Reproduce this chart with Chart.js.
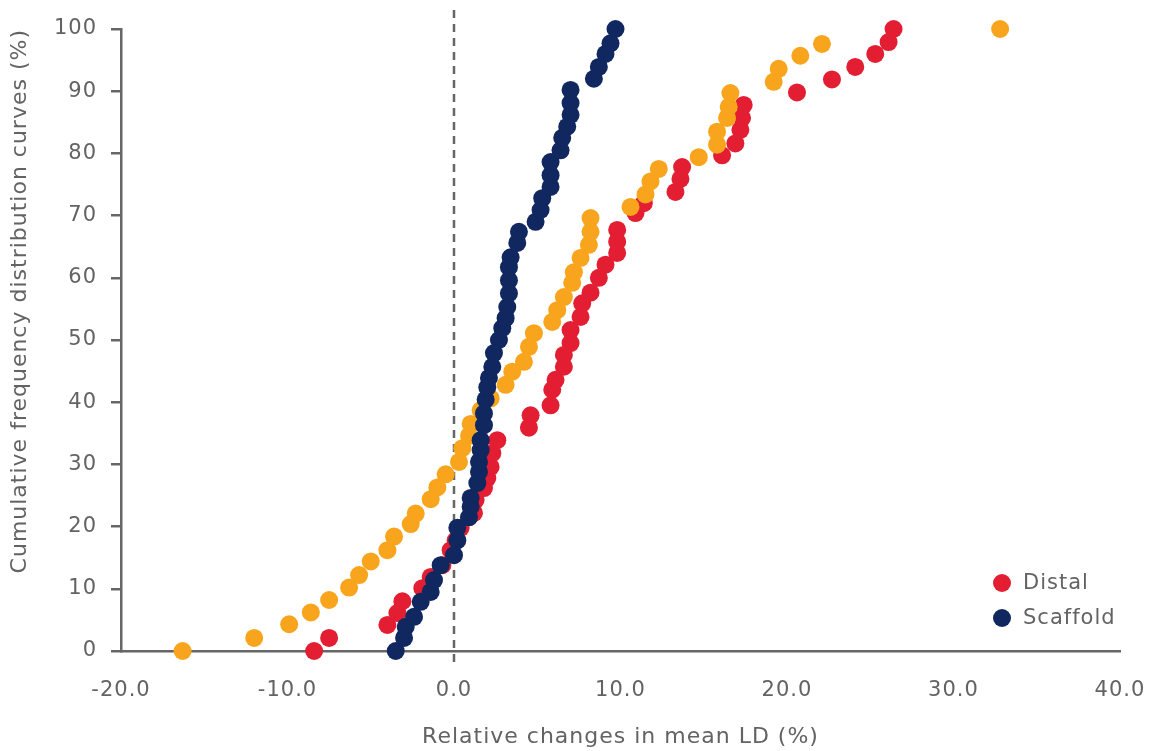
<!DOCTYPE html>
<html>
<head>
<meta charset="utf-8">
<script src="https://cdn.jsdelivr.net/npm/chart.js@4.4.1/dist/chart.umd.min.js"></script>
<style>
  html, body { margin: 0; padding: 0; background: #fff; }
  #wrap { width: 1149px; height: 751px; }
</style>
</head>
<body>
<div id="wrap"><canvas id="ldChart" width="1149" height="751"></canvas></div>
<script>
// x ticks / y ticks
const xTicks = [-20, -10, 0, 10, 20, 30, 40];
const yTicks = [0, 10, 20, 30, 40, 50, 60, 70, 80, 90, 100];

// orange series (no legend entry)
const proximalX = [-16.3, -12.0, -9.9, -8.6, -7.5, -6.3, -5.7, -5.0, -4.0, -3.6, -2.6, -2.3, -1.4, -1.0, -0.5, 0.3, 0.5, 0.9, 1.0,
  1.6, 2.2, 3.1, 3.5, 4.2, 4.5, 4.8, 5.9, 6.2, 6.6, 7.1, 7.2, 7.6, 8.1, 8.2, 8.2,
  10.6, 11.5, 11.8, 12.3, 14.7, 15.8, 15.8, 16.4, 16.5, 16.6, 19.2, 19.5, 20.8, 22.1, 32.8];
const proximalY = [0, 2.1, 4.3, 6.2, 8.2, 10.2, 12.2, 14.4, 16.2, 18.4, 20.4, 22.1, 24.4, 26.3, 28.4, 30.4, 32.6, 34.6, 36.5,
  38.7, 40.6, 42.8, 44.9, 46.5, 48.9, 51.1, 52.9, 54.8, 56.9, 59.2, 60.9, 63.2, 65.3, 67.4, 69.6,
  71.4, 73.4, 75.5, 77.5, 79.4, 81.4, 83.5, 85.7, 87.5, 89.7, 91.5, 93.6, 95.7, 97.6, 100];

// Distal
const distalX = [-8.4, -7.5, -4.0, -3.4, -3.1, -1.9, -1.4, -0.7, -0.2, 0.1, 0.4, 1.2, 1.3, 1.8, 2.0, 2.2, 2.3, 2.6,
  4.5, 4.6, 5.8, 5.9, 6.1, 6.6, 6.6, 7.0, 7.0, 7.6, 7.7, 8.2, 8.7, 9.1, 9.8, 9.8, 9.8,
  10.9, 11.4, 13.3, 13.6, 13.7, 16.1, 16.9, 17.2, 17.3, 17.4, 20.6, 22.7, 24.1, 25.3, 26.1, 26.4];
const distalY = [0, 2.1, 4.2, 6.1, 8.0, 10.1, 11.9, 13.8, 16.2, 17.8, 19.8, 22.2, 24.3, 26.2, 27.8, 29.6, 31.8, 33.9,
  35.9, 37.9, 39.5, 42.0, 43.6, 45.7, 47.6, 49.5, 51.6, 53.7, 55.9, 57.6, 60.0, 62.1, 64.0, 65.8, 67.7,
  70.4, 72.0, 73.8, 75.9, 77.8, 79.7, 81.6, 83.8, 85.7, 87.8, 89.8, 91.9, 93.9, 96.0, 97.9, 100];

// Scaffold
const scaffoldX = [-3.5, -3.0, -2.9, -2.4, -2.0, -1.4, -1.2, -0.8, 0.0, 0.2, 0.2, 0.9, 1.0, 1.0, 1.4, 1.5, 1.5, 1.6, 1.6,
  1.8, 1.8, 1.9, 2.0, 2.1, 2.3, 2.4, 2.7, 2.9, 3.1, 3.2, 3.3, 3.3, 3.3, 3.4, 3.8, 3.9,
  4.9, 5.2, 5.3, 5.8, 5.8, 5.8, 6.4, 6.5, 6.8, 7.0, 7.0, 7.0, 8.4, 8.7, 9.1, 9.4, 9.7];
const scaffoldY = [0, 2.1, 3.9, 5.5, 7.9, 9.5, 11.4, 13.8, 15.4, 17.8, 19.8, 21.5, 23.2, 24.6, 27.0, 28.8, 30.4, 32.3, 33.9,
  36.3, 38.2, 40.4, 42.4, 43.9, 45.7, 47.9, 50.0, 51.9, 53.5, 55.3, 57.5, 59.6, 61.7, 63.3, 65.6, 67.4,
  69.0, 70.9, 72.8, 74.6, 76.5, 78.6, 80.5, 82.5, 84.3, 86.2, 88.1, 90.2, 92.0, 93.9, 96.0, 97.7, 100];

const ORANGE = "#F8A51D";
const RED = "#E31E33";
const NAVY = "#10275F";
const TXT = "#636363";
const AXIS = "#666666";
const FONT = "'DejaVu Sans', 'Noto Sans', sans-serif";

function toPoints(xs, ys) {
  return xs.map((x, i) => ({ x: x, y: ys[i] }));
}

// wider letters, closer to the original typeface
const spacing = {
  id: "spacing",
  beforeDraw(chart) { chart.ctx.letterSpacing = "1px"; }
};

// dashed zero line, drawn under the dots
const zeroLine = {
  id: "zeroLine",
  beforeDatasetsDraw(chart) {
    const ctx = chart.ctx;
    const x = chart.scales.x.getPixelForValue(0);
    ctx.save();
    ctx.strokeStyle = AXIS;
    ctx.lineWidth = 2.5;
    ctx.setLineDash([8, 6]);
    ctx.beginPath();
    ctx.moveTo(x, 10);
    ctx.lineTo(x, chart.chartArea.bottom + 17);
    ctx.stroke();
    ctx.restore();
  }
};

// legend in lower right corner of the plot
const cornerLegend = {
  id: "cornerLegend",
  afterDraw(chart) {
    const ctx = chart.ctx;
    const items = [
      { label: "Distal", color: RED },
      { label: "Scaffold", color: NAVY }
    ];
    const left = chart.chartArea.right - 118;
    let y = chart.chartArea.bottom - 68;
    ctx.save();
    ctx.font = "21px " + FONT;
    ctx.textBaseline = "middle";
    items.forEach(it => {
      ctx.fillStyle = it.color;
      ctx.beginPath();
      ctx.arc(left, y, 9, 0, Math.PI * 2);
      ctx.fill();
      ctx.fillStyle = TXT;
      ctx.fillText(it.label, left + 21, y + 1);
      y += 35;
    });
    ctx.restore();
  }
};

const ctx = document.getElementById("ldChart").getContext("2d");

new Chart(ctx, {
  type: "scatter",
  data: {
    datasets: [
      {
        label: "Scaffold",
        data: toPoints(scaffoldX, scaffoldY),
        backgroundColor: NAVY,
        borderWidth: 0,
        pointRadius: 9,
        order: 0,
        clip: false
      },
      {
        label: "Proximal",
        data: toPoints(proximalX, proximalY),
        backgroundColor: ORANGE,
        borderWidth: 0,
        pointRadius: 9,
        order: 1,
        clip: false
      },
      {
        label: "Distal",
        data: toPoints(distalX, distalY),
        backgroundColor: RED,
        borderWidth: 0,
        pointRadius: 9,
        order: 2,
        clip: false
      }
    ]
  },
  options: {
    responsive: false,
    animation: false,
    layout: { padding: { top: 29, right: 29, left: 0, bottom: 0 } },
    plugins: {
      legend: { display: false },
      tooltip: { enabled: false }
    },
    scales: {
      x: {
        type: "linear",
        min: -20,
        max: 40,
        afterBuildTicks: s => { s.ticks = xTicks.map(v => ({ value: v })); },
        afterFit: s => { s.height = 100; s.paddingLeft = 0; s.paddingRight = 0; },
        ticks: {
          color: TXT,
          font: { size: 21, family: FONT },
          padding: 27,
          callback: v => v.toFixed(1)
        },
        grid: { display: false, drawTicks: false },
        border: { display: true, color: AXIS, width: 2.5 },
        title: {
          display: true,
          text: "Relative changes in mean LD (%)",
          color: TXT,
          font: { size: 22, family: FONT },
          padding: { top: 0, bottom: 1 }
        }
      },
      y: {
        type: "linear",
        min: 0,
        max: 100,
        afterBuildTicks: s => { s.ticks = yTicks.map(v => ({ value: v })); },
        afterFit: s => { s.width = 121; s.paddingTop = 0; s.paddingBottom = 0; },
        ticks: {
          color: TXT,
          font: { size: 21, family: FONT },
          padding: 14
        },
        grid: {
          display: true,
          drawOnChartArea: false,
          drawTicks: true,
          tickLength: 10,
          color: AXIS,
          lineWidth: 2.5
        },
        border: { display: true, color: AXIS, width: 2.5 },
        title: {
          display: true,
          text: "Cumulative frequency distribution curves (%)",
          align: "end",
          color: TXT,
          font: { size: 22, family: FONT },
          padding: { top: 7, bottom: 0 }
        }
      }
    }
  },
  plugins: [spacing, zeroLine, cornerLegend]
});
</script>
</body>
</html>
